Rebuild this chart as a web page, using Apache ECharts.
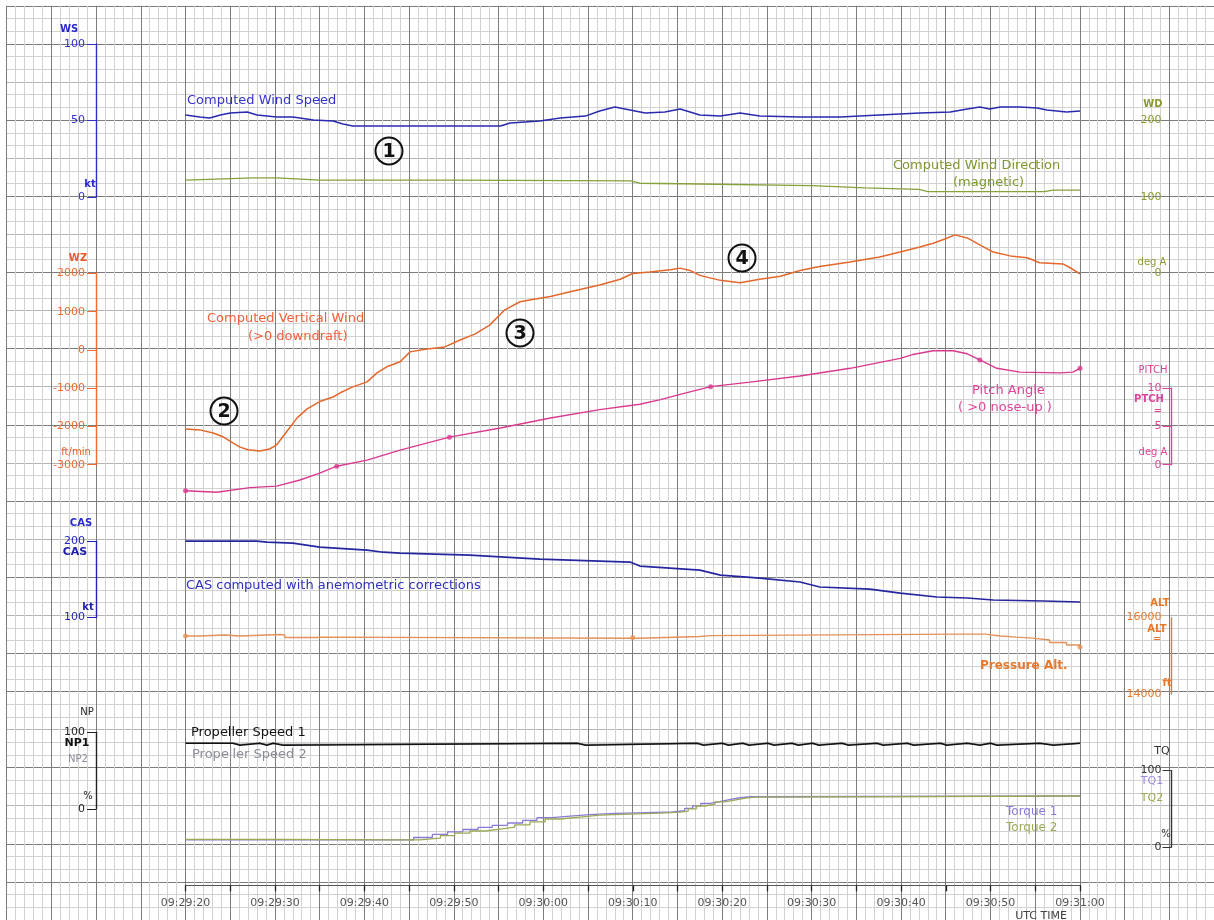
<!DOCTYPE html>
<html>
<head>
<meta charset="utf-8">
<script src="https://cdn.jsdelivr.net/npm/echarts@6/dist/echarts.min.js"></script>
<style>
  html, body { margin: 0; padding: 0; background: #ffffff; }
  #chart { width: 1214px; height: 920px; }
</style>
</head>
<body>
<div id="chart"></div>
<script>
// Flight parameters, time in seconds after 09:29:20 UTC
const timeLabels = ['09:29:20', '09:29:30', '09:29:40', '09:29:50', '09:30:00', '09:30:10',
                    '09:30:20', '09:30:30', '09:30:40', '09:30:50', '09:31:00'];

// Computed wind speed (kt)
const wsT = [0, 1.6, 2.7, 3.9, 5.0, 6.9, 8.0, 10.2, 12.0, 14.3, 16.5, 17.6, 18.7, 24.0, 29.6, 35.2,
             36.3, 39.6, 41.9, 44.7, 46.3, 48.0, 49.7, 51.4, 53.6, 55.3, 57.5, 59.8, 62.0, 64.2,
             68.7, 73.2, 77.6, 82.1, 85.5, 87.4, 88.8, 89.9, 91.1, 93.3, 95.2, 96.3, 98.5, 100];
const wsV = [53.6, 52.3, 51.6, 53.6, 54.9, 55.6, 53.6, 52.3, 52.3, 50.3, 49.7, 47.7, 46.4, 46.4, 46.4, 46.4,
             48.4, 49.7, 51.6, 52.9, 56.2, 58.8, 56.9, 54.9, 55.6, 57.5, 53.6, 52.9, 54.9, 52.9,
             52.3, 52.3, 53.6, 54.9, 55.6, 57.5, 58.8, 57.5, 58.8, 58.8, 58.2, 56.9, 55.6, 56.2];

// Computed wind direction (deg, magnetic)
const wdT = [0, 7.6, 10.2, 15.0, 30.0, 49.7, 50.8, 57.5, 70.0, 76.0, 82.0, 83.0, 96.0, 97.0, 100];
const wdV = [122, 125, 125, 122, 122, 121, 118, 117, 115, 112, 110, 107, 107, 109, 109];

// Computed vertical wind (ft/min, >0 downdraft)
const wzT = [0, 1.6, 3.1, 4.2, 5.3, 6.1, 7.0, 8.3, 9.4, 10.2, 11.3, 12.5, 13.6, 15.0, 16.5, 17.3,
             18.7, 20.3, 21.4, 22.5, 24.0, 25.1, 26.8, 29.0, 30.7, 32.4, 34.0, 35.7, 37.4, 39.1,
             40.8, 43.0, 46.3, 48.6, 50.0, 51.9, 54.2, 55.3, 56.4, 57.5, 59.8, 62.0, 64.2, 66.5,
             68.7, 70.9, 74.3, 77.6, 79.9, 82.1, 83.6, 84.9, 86.0, 87.4, 88.8, 90.3, 92.2, 94.1,
             95.5, 98.1, 98.9, 100];
const wzV = [-2066, -2090, -2170, -2270, -2430, -2540, -2610, -2640, -2590, -2480, -2140, -1770, -1540, -1350, -1230, -1120,
             -965, -835, -600, -440, -310, -50, 20, 80, 260, 420, 650, 1050, 1260, 1330,
             1400, 1520, 1700, 1850, 2000, 2040, 2100, 2140, 2080, 1950, 1820, 1760, 1850, 1930,
             2080, 2180, 2300, 2430, 2560, 2690, 2790, 2900, 3010, 2930, 2750, 2560, 2460, 2410,
             2280, 2250, 2150, 1990];

// Pitch angle (deg, >0 nose-up)
const ptT = [0, 3.5, 7.2, 10.2, 12.8, 15.0, 16.9, 20.3, 24.0, 29.5, 35.2, 40.8, 46.3, 50.8, 53.1, 55.3,
             58.7, 63.1, 68.7, 74.3, 79.9, 81.3, 83.6, 85.8, 87.4, 88.8, 90.7, 93.3, 97.8, 99.2, 100];
const ptV = [-3.4, -3.6, -3.0, -2.8, -2.0, -1.1, -0.2, 0.6, 1.9, 3.6, 4.8, 6.1, 7.2, 7.9, 8.5, 9.2,
             10.2, 10.8, 11.6, 12.6, 13.9, 14.4, 14.9, 14.9, 14.5, 13.7, 12.6, 12.1, 12.0, 12.1, 12.6];
const ptDotT = [0, 16.9, 29.5, 58.7, 88.8, 100];
const ptDotV = [-3.4, -0.2, 3.6, 10.2, 13.7, 12.6];

// Computed airspeed (kt)
const casT = [0, 8.0, 9.1, 12.0, 15.0, 20.3, 22.1, 24.0, 31.8, 39.6, 49.7, 50.8, 57.5, 59.8, 64.2, 68.7,
              70.9, 76.5, 79.9, 84.0, 87.4, 90.3, 95.9, 100];
const casV = [200, 200, 198.7, 197.4, 192.2, 188.3, 185.6, 184.3, 181.7, 176.5, 172.6, 167.4, 162.1, 155.6, 151.7, 146.5,
              140.0, 137.3, 132.1, 126.9, 125.6, 123.0, 121.7, 120.4];

// Pressure altitude (ft)
const altT = [0, 1.6, 4.4, 6.1, 10.6, 11.1, 14.7, 15.0, 49.7, 50.8, 57.5, 58.6, 86.6, 89.4, 91.1, 92.9,
              94.7, 96.6, 98.5, 100];
const altV = [15520, 15545, 15520, 15560, 15545, 15480, 15490, 15460, 15460, 15505, 15530, 15570, 15570, 15520, 15490, 15465,
              15415, 15350, 15285, 15230];
const altDotT = [0, 50, 100];
const altDotV = [15520, 15480, 15230];

// Propeller speeds (%)
const npT = [0, 5.3, 6.1, 8.3, 9.1, 9.8, 10.9, 43.8, 44.7, 57.2, 57.9, 60.0, 60.7, 62.3, 63.0, 65.1,
             65.8, 67.8, 68.5, 70.1, 70.8, 73.4, 74.1, 77.3, 78.0, 80.7, 81.4, 84.4, 85.1, 87.4,
             88.8, 90.0, 90.7, 95.5, 97.0, 100];
const np1V = [85.8, 83.2, 85.8, 83.2, 85.8, 83.2, 85.8, 83.2, 85.8, 83.2, 85.8, 83.2, 85.8, 83.2, 85.8, 83.2,
              85.8, 83.2, 85.8, 83.2, 85.8, 83.2, 85.8, 83.2, 85.8, 83.2, 85.8, 83.2, 85.8, 83.2,
              85.8, 83.2, 85.8, 83.2, 85.8, 85.8];
const np2V = [85.8, 84.2, 85.8, 84.2, 85.8, 84.2, 85.8, 84.2, 85.8, 84.2, 85.8, 84.2, 85.8, 84.2, 85.8, 84.2,
              85.8, 84.2, 85.8, 84.2, 85.8, 84.2, 85.8, 84.2, 85.8, 84.2, 85.8, 84.2, 85.8, 84.2,
              85.8, 84.2, 85.8, 84.2, 85.8, 85.8];

// Engine torques (%)
const tq1T = [0, 24.0, 25.5, 27.6, 29.3, 31.0, 32.7, 34.3, 36.0, 37.7, 39.3, 41.0, 43.0, 45.2, 48.0, 51.5,
              54.5, 55.8, 56.7, 57.6, 58.6, 59.7, 60.8, 62.0, 63.2, 100];
const tq1V = [9.4, 9.4, 12.5, 16.5, 20.0, 23.0, 25.8, 28.5, 31.5, 35.0, 38.5, 40.5, 42.5, 44.0, 45.0, 46.0,
              47.5, 50.5, 54.0, 57.0, 59.5, 62.0, 64.5, 65.8, 66.8, 66.8];
const tq2T = [0, 9.4, 24.0, 26.2, 28.5, 30.1, 31.8, 33.5, 35.2, 36.8, 38.5, 40.2, 41.9, 44.1, 46.3, 49.7,
              53.1, 55.3, 56.2, 57.1, 58.1, 59.2, 60.3, 61.4, 62.6, 63.7, 100];
const tq2V = [10.2, 9.4, 9.4, 11.8, 15.0, 18.3, 21.0, 23.6, 26.0, 29.0, 33.0, 36.7, 39.3, 41.9, 43.2, 44.5,
              45.8, 47.0, 50.0, 53.7, 56.3, 59.0, 61.5, 64.0, 65.4, 66.8, 66.8];

// ---------------------------------------------------------------- layout
const FONT = '"DejaVu Sans", "Liberation Sans", sans-serif';
const PX_PER_S = 8.945;          // horizontal scale
const X0 = 185.5;                // 09:29:20
const PLOT_W = 100 * PX_PER_S;   // 100 s of record
const ROW = 38.24;               // one chart-paper division
const Y_REF = 197;               // wind speed zero line
const rowY = k => Y_REF + k * ROW;
const LEFT_OFF = X0 - 96;        // left parameter scales
const RIGHT_OFF = 1171.5 - (X0 + PLOT_W);

const pts = (t, v) => t.map((x, i) => [x, v[i]]);

// strip definitions: [top row, rows, min, max, interval]
const strips = {
  ws:   [-4, 4, 0, 100, 50],
  wd:   [-2, 4, 0, 200, 100],
  wz:   [2, 5, -3000, 2000, 1000],
  pt:   [5, 2, 0, 10, 5],
  cas:  [9, 2, 100, 200, 100],
  alt:  [11, 2, 14000, 16000, 2000],
  np:   [14, 2, 0, 100, 100],
  tq:   [15, 2, 0, 100, 100],
  time: [17, 1, 0, 1, 1]
};
const order = ['ws', 'wd', 'wz', 'pt', 'cas', 'alt', 'np', 'tq', 'time'];

// chart paper: heavy and light division lines, top to bottom
const DARK = '#7c7c7c', LIGHT = '#b4b4b4', FINE = '#d2d2d2';
const rowColors = [DARK, DARK, LIGHT, DARK, LIGHT, DARK, LIGHT, DARK, LIGHT, DARK, LIGHT, DARK, LIGHT,
                   DARK, LIGHT, DARK, LIGHT, DARK, DARK, LIGHT, DARK, LIGHT, DARK, DARK, LIGHT];

const grids = [{
  left: X0 - 20 * PX_PER_S, top: rowY(-5), width: 135 * PX_PER_S, height: 24 * ROW,
  show: false
}];
const xAxes = [{
  gridIndex: 0, type: 'value', min: -20, max: 115, interval: 5,
  axisLine: { show: false }, axisTick: { show: false }, axisLabel: { show: false },
  splitLine: { show: true, lineStyle: { color: DARK, width: 1 } },
  minorTick: { show: false, splitNumber: 5 },
  minorSplitLine: { show: true, lineStyle: { color: FINE, width: 1 } }
}];
const yAxes = [{
  gridIndex: 0, type: 'value', inverse: true, min: 0, max: 24, interval: 1,
  axisLine: { show: false }, axisTick: { show: false }, axisLabel: { show: false },
  splitLine: { show: true, lineStyle: { color: rowColors, width: 1 } },
  minorTick: { show: false, splitNumber: 3 },
  minorSplitLine: { show: true, lineStyle: { color: FINE, width: 1 } }
}];

const idx = {};
order.forEach((key, i) => {
  const s = strips[key];
  idx[key] = i + 1;
  grids.push({ left: X0, width: PLOT_W, top: rowY(s[0]), height: s[1] * ROW, show: false });
  xAxes.push({ gridIndex: i + 1, type: 'value', min: 0, max: 100, show: false });
  yAxes.push({ gridIndex: i + 1, type: 'value', min: s[2], max: s[3], interval: s[4], show: false,
               splitLine: { show: false } });
});

// time scale at the bottom
xAxes[idx.time] = {
  gridIndex: idx.time, type: 'value', min: 0, max: 100, interval: 5, position: 'bottom',
  axisLine: { show: true, onZero: false, lineStyle: { color: '#555', width: 1 } },
  axisTick: { show: true, length: 6, lineStyle: { color: '#222', width: 1.3 } },
  splitLine: { show: false },
  axisLabel: {
    show: true, margin: 12, color: '#555', fontSize: 11, fontFamily: FONT,
    showMinLabel: true, showMaxLabel: true,
    formatter: v => (v % 10 === 0 ? timeLabels[v / 10] : '')
  }
};

function scale(key, side, color, opts) {
  const s = strips[key];
  const o = Object.assign({
    gridIndex: idx[key], type: 'value', min: s[2], max: s[3], interval: s[4], show: true,
    position: side, offset: side === 'left' ? LEFT_OFF : RIGHT_OFF,
    axisLine: { show: true, onZero: false, lineStyle: { color: color, width: 1.4 } },
    axisTick: { show: true, length: 9, inside: side === 'right', lineStyle: { color: color, width: 1 } },
    axisLabel: { show: true, inside: side === 'right', margin: side === 'left' ? 11 : 10,
                 color: color, fontSize: 11, fontFamily: FONT, formatter: v => String(v) },
    splitLine: { show: false }
  }, opts || {});
  yAxes[idx[key]] = o;
}
scale('ws', 'left', '#3030c8');
scale('wz', 'left', '#ee6a30');
scale('cas', 'left', '#2424b8');
scale('np', 'left', '#222222');
scale('wd', 'right', '#8a9c30', { axisLine: { show: false, onZero: false }, axisTick: { show: false } });
scale('pt', 'right', '#e0449a');
scale('alt', 'right', '#e8782a', { axisTick: { show: false } });
scale('tq', 'right', '#333333');

function line(key, t, v, color, width, extra) {
  return Object.assign({
    type: 'line', xAxisIndex: idx[key], yAxisIndex: idx[key], data: pts(t, v),
    showSymbol: false, symbol: 'none', clip: false, silent: true,
    lineStyle: { color: color, width: width }, itemStyle: { color: color }
  }, extra || {});
}
function dots(key, t, v, color) {
  return {
    type: 'scatter', xAxisIndex: idx[key], yAxisIndex: idx[key], data: pts(t, v),
    symbolSize: 5, clip: false, silent: true, itemStyle: { color: color }, z: 3
  };
}

const series = [
  line('ws', wsT, wsV, '#2a2aae', 1.5),
  line('wd', wdT, wdV, '#86a03a', 1.3),
  line('wz', wzT, wzV, '#e4672c', 1.5),
  line('pt', ptT, ptV, '#d93a8f', 1.4),
  dots('pt', ptDotT, ptDotV, '#d93a8f'),
  line('cas', casT, casV, '#26269e', 1.6),
  line('alt', altT, altV, '#e3925a', 1.4, { step: 'end' }),
  dots('alt', altDotT, altDotV, '#e3925a'),
  line('np', npT, np2V, '#8a8c98', 1.4, { step: 'end' }),
  line('np', npT, np1V, '#111111', 1.6, { step: 'end' }),
  line('tq', tq1T, tq1V, '#8a7ad8', 1.3, { step: 'end' }),
  line('tq', tq2T, tq2V, '#98ab55', 1.3, { step: 'end' })
];

// ---------------------------------------------------------------- annotations
function txt(x, y, s, color, font, align) {
  return { type: 'text', x: x, y: y, z: 50, silent: true,
           style: { text: s, fill: color, font: font + ' ' + FONT,
                    textAlign: align || 'left', textVerticalAlign: 'middle',
                    align: align || 'left', verticalAlign: 'middle' } };
}
function circled(cx, cy, n) {
  return [
    { type: 'circle', z: 50, silent: true, shape: { cx: cx, cy: cy, r: 13.5 },
      style: { fill: 'rgba(255,255,255,0)', stroke: '#111', lineWidth: 2 } },
    txt(cx, cy + 1, n, '#111', 'bold 19px', 'center')
  ];
}

const graphics = [
  // parameter names on the left scales
  txt(69, 29, 'WS', '#2828c8', 'bold 10px', 'center'),
  txt(90, 184, 'kt', '#2828c8', 'bold 10px', 'center'),
  txt(78, 258, 'WZ', '#f05a28', 'bold 10px', 'center'),
  txt(76, 452, 'ft/min', '#f05a28', '10px', 'center'),
  txt(81, 523, 'CAS', '#2a2ad0', 'bold 10px', 'center'),
  txt(75, 552, 'CAS', '#1e1ea8', 'bold 11px', 'center'),
  txt(88, 607, 'kt', '#1e1ea8', 'bold 10px', 'center'),
  txt(87, 712, 'NP', '#222', '10px', 'center'),
  txt(77, 743, 'NP1', '#111', 'bold 11px', 'center'),
  txt(78, 759, 'NP2', '#8a8c98', '10px', 'center'),
  txt(88, 796, '%', '#222', '10px', 'center'),
  // parameter names on the right scales
  txt(1153, 104, 'WD', '#8a9c30', 'bold 10px', 'center'),
  txt(1152, 262, 'deg A', '#8a9c30', '10px', 'center'),
  txt(1153, 370, 'PITCH', '#e0449a', '10px', 'center'),
  txt(1149, 399, 'PTCH', '#e0449a', 'bold 10px', 'center'),
  txt(1158, 411, '=', '#e0449a', '10px', 'center'),
  txt(1153, 452, 'deg A', '#e0449a', '10px', 'center'),
  txt(1160, 603, 'ALT', '#e8782a', 'bold 10px', 'center'),
  txt(1157, 629, 'ALT', '#e8782a', 'bold 10px', 'center'),
  txt(1157, 639, '=', '#e8782a', '10px', 'center'),
  txt(1167, 683, 'ft', '#e8782a', 'bold 10px', 'center'),
  txt(1162, 751, 'TQ', '#333', '11px', 'center'),
  txt(1152, 781, 'TQ1', '#9a8ae0', '11px', 'center'),
  txt(1152, 798, 'TQ2', '#98a850', '11px', 'center'),
  txt(1166, 834, '%', '#333', '10px', 'center'),
  // trace captions
  txt(187, 100.5, 'Computed Wind Speed', '#3434c8', '13px'),
  txt(893, 166, 'Computed Wind Direction', '#7d9a2c', '13px'),
  txt(953, 183, '(magnetic)', '#7d9a2c', '13px'),
  txt(207, 319, 'Computed Vertical Wind', '#f0603a', '13px'),
  txt(248, 337, '(>0 downdraft)', '#f0603a', '13px'),
  txt(972, 391, 'Pitch Angle', '#e0449a', '13px'),
  txt(958, 408, '( >0 nose-up )', '#e0449a', '13px'),
  txt(186, 586, 'CAS computed with anemometric corrections', '#3030c0', '13px'),
  txt(980, 666, 'Pressure Alt.', '#e8782a', 'bold 12px'),
  txt(191, 733, 'Propeller Speed 1', '#111', '13px'),
  txt(192, 755, 'Propeller Speed 2', '#8a8c98', '13px'),
  txt(1006, 812, 'Torque 1', '#8a7ad8', '12px'),
  txt(1006, 828, 'Torque 2', '#98ab55', '12px'),
  txt(1041, 916, 'UTC TIME', '#444', '11px', 'center')
].concat(circled(389, 151, '1'), circled(224, 411, '2'), circled(520, 333, '3'), circled(742, 258, '4'));

const chart = echarts.init(document.getElementById('chart'), null, { renderer: 'canvas' });
chart.setOption({
  animation: false,
  backgroundColor: '#ffffff',
  grid: grids,
  xAxis: xAxes,
  yAxis: yAxes,
  series: series,
  graphic: graphics
});
</script>
</body>
</html>
